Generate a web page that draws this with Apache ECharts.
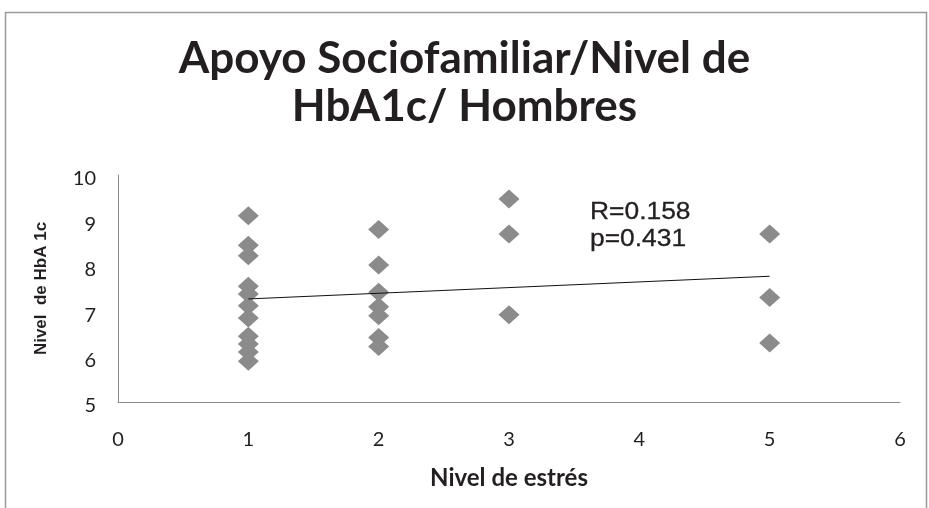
<!DOCTYPE html>
<html>
<head>
<meta charset="utf-8">
<script src="https://cdn.jsdelivr.net/npm/echarts@6/dist/echarts.min.js"></script>
<style>
  html, body { margin: 0; padding: 0; background: #fff; }
  #chart { width: 929px; height: 508px; }
</style>
</head>
<body>
<div id="chart"></div>
<script>
// Nivel de estrés (x) and HbA1c (y) for each man in the sample
const estres = [1, 1, 1, 1, 1, 1, 1, 1, 1, 1, 1,
                2, 2, 2, 2, 2, 2, 2,
                3, 3, 3,
                5, 5, 5];
const hba1c  = [9.1, 8.45, 8.22, 7.55, 7.38, 7.12, 6.85, 6.45, 6.28, 6.1, 5.9,
                8.8, 8.02, 7.42, 7.1, 6.9, 6.42, 6.22,
                9.47, 8.7, 6.92,
                8.7, 7.3, 6.3];

// Linear trend line end points
const trendX = [1, 5];
const trendY = [7.27, 7.77];

// Axis ticks
const xTicks = [0, 1, 2, 3, 4, 5, 6];
const yTicks = [5, 6, 7, 8, 9, 10];

const titleText = 'Apoyo Sociofamiliar/Nivel de\nHbA1c/ Hombres';
const xName = 'Nivel de estrés';
const yName = 'Nivel  de HbA 1c';
const statsText = 'R=0.158\np=0.431';

const chart = echarts.init(document.getElementById('chart'));

chart.setOption({
  backgroundColor: '#ffffff',
  animation: false,
  title: {
    text: titleText,
    left: 'center',
    top: 30,
    textStyle: {
      fontFamily: 'Lato',
      fontWeight: 'bold',
      fontSize: 44,
      lineHeight: 48,
      color: '#231f20'
    }
  },
  graphic: [
    {
      type: 'rect',
      shape: { x: 5.5, y: 12.5, width: 921, height: 520 },
      style: { fill: 'none', stroke: '#9a9a9a', lineWidth: 1.5 },
      silent: true
    },
    {
      type: 'text',
      x: 590,
      y: 199,
      scaleX: 1.1,
      style: {
        text: statsText,
        fontFamily: 'Liberation Sans',
        fontSize: 24,
        lineHeight: 27,
        verticalAlign: 'top',
        fill: '#231f20',
        stroke: '#231f20',
        lineWidth: 0.3
      }
    }
  ],
  grid: { left: 118, right: 29, top: 175, bottom: 106 },
  xAxis: {
    type: 'value',
    min: xTicks[0],
    max: xTicks[xTicks.length - 1],
    interval: 1,
    name: xName,
    nameLocation: 'middle',
    nameGap: 64,
    nameTextStyle: {
      fontFamily: 'Lato', fontWeight: 'bold', fontSize: 24, color: '#231f20'
    },
    axisLine: { show: true, lineStyle: { color: '#8c8c8c', width: 1 } },
    axisTick: { show: false },
    splitLine: { show: false },
    axisLabel: {
      fontFamily: 'Lato', fontSize: 20, color: '#231f20', margin: 28
    }
  },
  yAxis: {
    type: 'value',
    min: yTicks[0],
    max: yTicks[yTicks.length - 1],
    interval: 1,
    name: yName,
    nameLocation: 'middle',
    nameGap: 68,
    nameRotate: 90,
    nameTextStyle: {
      fontFamily: 'Liberation Sans', fontWeight: 'bold', fontSize: 17, color: '#231f20'
    },
    axisLine: { show: true, lineStyle: { color: '#8c8c8c', width: 1 } },
    axisTick: { show: false },
    splitLine: { show: false },
    axisLabel: {
      fontFamily: 'Lato', fontSize: 20, color: '#231f20', margin: 22,
      verticalAlign: 'top',
      lineHeight: 8
    }
  },
  series: [
    {
      type: 'scatter',
      data: estres.map((x, i) => [x, hba1c[i]]),
      symbol: 'diamond',
      symbolSize: [21, 19],
      itemStyle: { color: '#8b8b8b', opacity: 1 },
      z: 2
    },
    {
      type: 'line',
      data: trendX.map((x, i) => [x, trendY[i]]),
      showSymbol: false,
      symbol: 'none',
      lineStyle: { color: '#111111', width: 1 },
      z: 3
    }
  ]
});
</script>
</body>
</html>
